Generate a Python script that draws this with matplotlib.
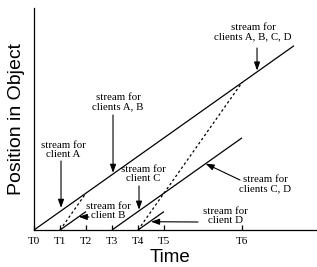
import matplotlib
matplotlib.use('Agg')
import matplotlib.pyplot as plt

# 时间刻度
tick_names = ['T0', 'T1', 'T2', 'T3', 'T4', 'T5', 'T6']
tick_times = [0, 1, 2, 3, 4, 5, 8]

# 实线 streams (起点/终点)
solid_t0 = [0, 1, 3, 4]
solid_t1 = [10, 2, 8, 5]
solid_p0 = [0, 0, 0, 0]
solid_p1 = [10, 1, 5, 1]

# 虚线 (追赶)
dash_t0 = [1, 4]
dash_t1 = [2, 8]
dash_p0 = [0, 0]
dash_p1 = [2, 8]

W, H = 317, 267
fig = plt.figure(figsize=(W / 100, H / 100), dpi=100)

# 像素 -> 坐标: 原点 (34,230), x 每单位 26px, y 每单位 18.43px
x0, y0, ux, uy = 34, 230, 26.0, 18.43
ax = fig.add_axes([x0 / W, (H - y0) / H, (W - x0) / W, (y0 - 8) / H])
ax.set_xlim(0, (W - x0) / ux)
ax.set_ylim(0, (y0 - 8) / uy)

for a, b, p, q in zip(solid_t0, solid_t1, solid_p0, solid_p1):
    ax.plot([a, b], [p, q], color='black', lw=0.9, solid_capstyle='butt')
for a, b, p, q in zip(dash_t0, dash_t1, dash_p0, dash_p1):
    ax.plot([a, b], [p, q], color='black', lw=0.9, linestyle=(0, (2, 2)))

ax.spines['top'].set_visible(False)
ax.spines['right'].set_visible(False)
ax.spines['left'].set_linewidth(0.9)
ax.spines['bottom'].set_linewidth(0.9)
ax.set_yticks([])
ax.set_xticks(tick_times)
ax.set_xticklabels(tick_names, family='Liberation Serif', fontsize=8)
ax.tick_params(axis='x', direction='in', length=3.5, width=0.9, pad=5)

serif = dict(family='Liberation Serif', fontsize=7.8, ha='center', va='center', linespacing=1.0)
arr = dict(arrowstyle='-|>,head_length=0.5,head_width=0.18', color='black', lw=0.8, shrinkA=0, shrinkB=0)

def pt(px, py):
    return ((px - x0) / ux, (y0 - py) / uy)

# client A
ax.text(*pt(63, 150), 'stream for\nclient A', **serif)
ax.annotate('', xy=(1.04, 1.2), xytext=pt(61, 161), arrowprops=arr)
# clients A, B
ax.text(*pt(118, 102), 'stream for\nclients A, B', **serif)
ax.annotate('', xy=(3.04, 3.1), xytext=pt(113, 115), arrowprops=arr)
# client B
ax.text(*pt(108, 211), 'stream for\nclient B', **serif)
ax.annotate('', xy=(1.72, 0.72), xytext=pt(89, 217), arrowprops=arr)
# client C
ax.text(*pt(143, 174), 'stream for\nclient C', **serif)
ax.annotate('', xy=(4.04, 1.1), xytext=pt(139, 186), arrowprops=arr)
# client D
ax.text(*pt(225, 216), 'stream for\nclient D', **serif)
ax.annotate('', xy=(4.5, 0.45), xytext=pt(198, 222), arrowprops=arr)
# clients C, D
ax.text(*pt(265, 184), 'stream for\nclients C, D', **serif)
ax.annotate('', xy=(6.6, 3.6), xytext=pt(240, 180), arrowprops=arr)
# clients A, B, C, D
ax.text(*pt(253, 32), 'stream for\nclients A, B, C, D', **serif)
ax.annotate('', xy=(8.58, 8.65), xytext=pt(257, 48), arrowprops=arr)

fig.text(170 / W, 1 - 258 / H, 'Time', family='Liberation Sans', fontsize=13.5,
         ha='center', va='center')
fig.text(17 / W, 1 - 119 / H, 'Position in Object', family='Liberation Sans', fontsize=14,
         ha='center', va='center', rotation=90)

fig.savefig('out.png', dpi=100)
